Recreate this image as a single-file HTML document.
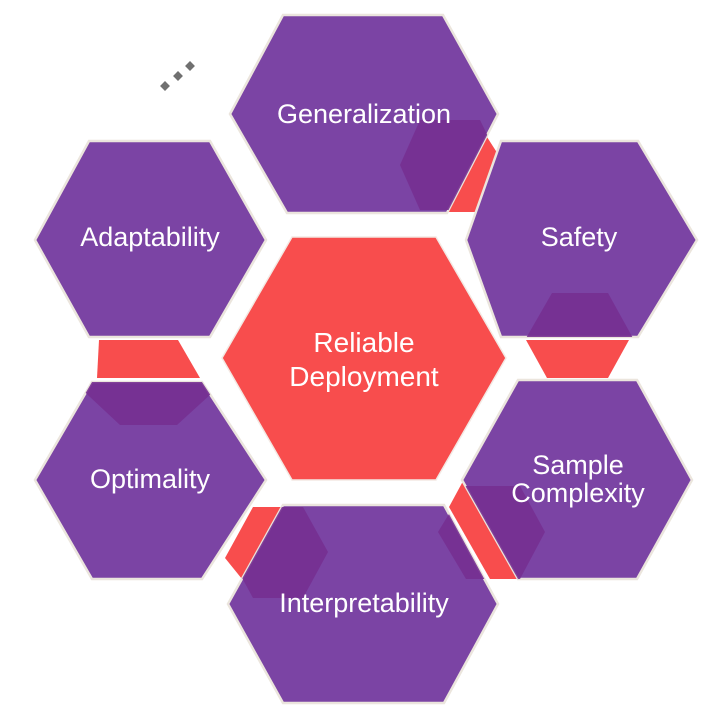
<!DOCTYPE html>
<html><head><meta charset="utf-8"><style>
html,body{margin:0;padding:0;background:#fff;}
svg{display:block;}
text{font-family:"Liberation Sans",Arial,sans-serif;fill:#fff;font-size:27px;text-anchor:middle;}
</style></head><body>
<svg width="727" height="708" viewBox="0 0 727 708" xmlns="http://www.w3.org/2000/svg">
<defs>
<clipPath id="cGen"><polygon points="230,114 283,15 443,15 498,114 447,213 287,213"/></clipPath>
<clipPath id="cSaf"><polygon points="466,240 501,141 638,141 697,240 638,337 501,337"/></clipPath>
<clipPath id="cSam"><polygon points="462,480 518,380 637,380 692,480 637,579 518,579"/></clipPath>
<clipPath id="cInt"><polygon points="228,604 283,505 444,505 498,604 444,703 283,703"/></clipPath>
<clipPath id="cOpt"><polygon points="35,480 92,382 202,382 266,480 202,579 92,579"/></clipPath>
</defs>
<polygon points="487,137 503,162 477,212 447,212" fill="#f84d4d"/>
<polygon points="526,340 629,340 608,378 547,378" fill="#f84d4d"/>
<polygon points="462,483 472,483 517,579 490,579 449,507" fill="#f84d4d"/>
<polygon points="253,507 283,507 242,579 225,558" fill="#f84d4d"/>
<polygon points="99,340 178,340 200,378 97,378" fill="#f84d4d"/>

<g stroke="#ebe5dd" stroke-width="2.5" fill="#7b44a4">
<polygon points="230,114 283,15 443,15 498,114 447,213 287,213"/>
<polygon points="35,240 89,141 210,141 266,240 210,337 89,337"/>
<polygon points="466,240 501,141 638,141 697,240 638,337 501,337"/>
<polygon points="35,480 92,382 202,382 266,480 202,579 92,579"/>
<polygon points="462,480 518,380 637,380 692,480 637,579 518,579"/>
<polygon points="228,604 283,505 444,505 498,604 444,703 283,703"/>
</g>
<polygon points="222,358 292,237 436,237 506,358 436,480 292,480" fill="#f84d4d" stroke="#f3e9e4" stroke-width="1.5"/>

<g fill="#772f91" opacity="0.9">
<polygon clip-path="url(#cGen)" points="400,165 420,120 480,120 502,165 480,210 420,210"/>
<polygon clip-path="url(#cSaf)" points="525,340 552,293 608,293 634,340 608,387 552,387"/>
<polygon clip-path="url(#cSam)" points="440,532 466,486 520,486 545,532 520,579 466,579"/>
<polygon clip-path="url(#cInt)" points="438,532 466,486 520,486 545,532 520,579 466,579"/>
<polygon clip-path="url(#cInt)" points="228,552 253,507 303,507 328,552 303,598 253,598"/>
<polygon clip-path="url(#cOpt)" points="75,383 98,341 200,341 223,383 177,425 120,425"/>
</g>

<g fill="#707070">
<rect x="161.5" y="82.5" width="7" height="7" transform="rotate(45 165 86)"/>
<rect x="174.5" y="72.5" width="7" height="7" transform="rotate(45 178 76)"/>
<rect x="186.5" y="62.5" width="7" height="7" transform="rotate(45 190 66)"/>
</g>

<text x="364" y="123">Generalization</text>
<text x="150" y="246">Adaptability</text>
<text x="579" y="246">Safety</text>
<text x="364" y="352" style="font-size:28px">Reliable</text>
<text x="364" y="386" style="font-size:28px">Deployment</text>
<text x="150" y="488">Optimality</text>
<text x="578" y="474">Sample</text>
<text x="578" y="502">Complexity</text>
<text x="364" y="612">Interpretability</text>
</svg>
</body></html>
